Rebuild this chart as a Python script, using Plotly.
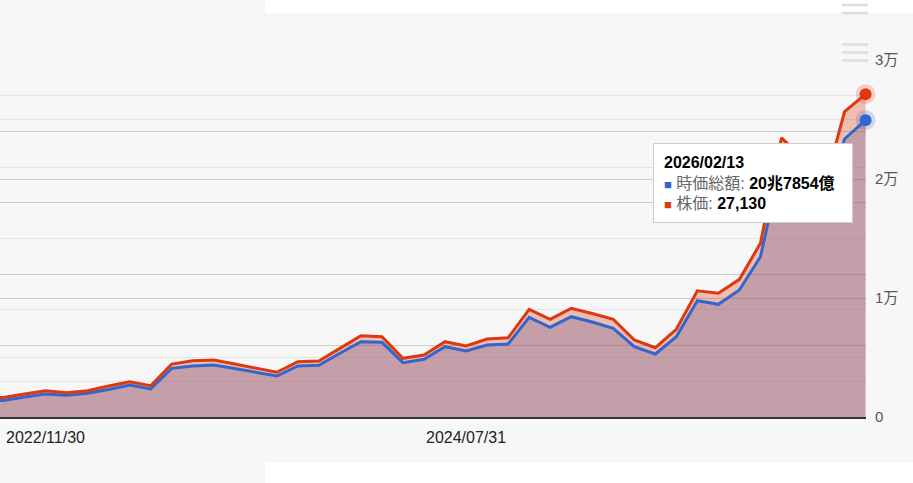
import plotly.graph_objects as go

# monthly points (last one is the latest trading day)
dates = [
    "2022/08/31", "2022/09/30", "2022/10/31", "2022/11/30", "2022/12/31",
    "2023/01/31", "2023/02/28", "2023/03/31", "2023/04/30", "2023/05/31", "2023/06/30",
    "2023/07/31", "2023/08/31", "2023/09/30", "2023/10/31", "2023/11/30", "2023/12/31",
    "2024/01/31", "2024/02/29", "2024/03/31", "2024/04/30", "2024/05/31", "2024/06/30",
    "2024/07/31", "2024/08/31", "2024/09/30", "2024/10/31", "2024/11/30", "2024/12/31",
    "2025/01/31", "2025/02/28", "2025/03/31", "2025/04/30", "2025/05/31", "2025/06/30",
    "2025/07/31", "2025/08/31", "2025/09/30", "2025/10/31", "2025/11/30", "2025/12/31",
    "2026/01/31", "2026/02/13",
]

# 時価総額 (億円)
market_cap = [
    11200, 11550, 14000, 16100, 15200,
    16600, 19260, 22410, 19610, 34100, 35710,
    36410, 33960, 31510, 28710, 35710, 36200,
    44610, 52730, 52310, 38030, 40410, 49230,
    46220, 50420, 51120, 69820, 62820, 70240,
    66530, 62120, 49230, 44120, 56230, 81440,
    78920, 88940, 112260, 178570, 164570, 146360,
    194680, 207854,
]

# 株価 (円)
price = [
    1600, 1640, 1930, 2210, 2040,
    2210, 2600, 2970, 2630, 4450, 4730,
    4790, 4450, 4080, 3760, 4650, 4710,
    5770, 6830, 6750, 4930, 5210, 6330,
    5970, 6550, 6660, 9050, 8210, 9130,
    8700, 8210, 6470, 5820, 7370, 10610,
    10400, 11570, 14600, 23450, 21760, 19080,
    25660, 27130,
]

x_labels = ["2022/11/30", "2024/07/31"]
price_ticks = [0, 10000, 20000, 30000]
price_tick_text = ["0", "1万", "2万", "3万"]

BLUE = "#3366cc"
RED = "#dc3912"
BG = "#f7f7f7"
FONT = "Liberation Sans, Arial, Noto Sans CJK JP, sans-serif"

fig = go.Figure()

# areas first, lines on top (like google charts)
fig.add_trace(go.Scatter(x=dates, y=market_cap, mode="lines", fill="tozeroy",
                         fillcolor="rgba(51,102,204,0.3)", line=dict(width=0),
                         yaxis="y", showlegend=False, hoverinfo="skip"))
fig.add_trace(go.Scatter(x=dates, y=price, mode="lines", fill="tozeroy",
                         fillcolor="rgba(220,57,18,0.3)", line=dict(width=0),
                         yaxis="y2", showlegend=False, hoverinfo="skip"))
fig.add_trace(go.Scatter(x=dates, y=market_cap, mode="lines",
                         line=dict(color=BLUE, width=3), yaxis="y3", showlegend=False))
fig.add_trace(go.Scatter(x=dates, y=price, mode="lines",
                         line=dict(color=RED, width=3), yaxis="y4", showlegend=False))

# focused last points
fig.add_trace(go.Scatter(x=dates[-1:], y=market_cap[-1:], mode="markers", yaxis="y3",
                         marker=dict(size=20, color="rgba(51,102,204,0.2)"),
                         cliponaxis=False, showlegend=False))
fig.add_trace(go.Scatter(x=dates[-1:], y=market_cap[-1:], mode="markers", yaxis="y3",
                         marker=dict(size=12, color=BLUE),
                         cliponaxis=False, showlegend=False))
fig.add_trace(go.Scatter(x=dates[-1:], y=price[-1:], mode="markers", yaxis="y4",
                         marker=dict(size=20, color="rgba(220,57,18,0.2)"),
                         cliponaxis=False, showlegend=False))
fig.add_trace(go.Scatter(x=dates[-1:], y=price[-1:], mode="markers", yaxis="y4",
                         marker=dict(size=12, color=RED),
                         cliponaxis=False, showlegend=False))

cap = market_cap[-1]
cap_text = f"{cap // 10000}兆{cap % 10000}億"
tip = (f"<b>{dates[-1]}</b><br>"
       f"<span style='color:{BLUE};font-size:13px'>■</span> "
       f"<span style='color:#666'>時価総額:</span> <b>{cap_text}</b><br>"
       f"<span style='color:{RED};font-size:13px'>■</span> "
       f"<span style='color:#666'>株価:</span> <b>{price[-1]:,}</b>")

W, H = 866, 357  # plot area in px, top at y=60
fig.add_annotation(xref="paper", yref="paper", x=653 / W, y=(417 - 143) / H,
                   xanchor="left", yanchor="top", text=tip, showarrow=False,
                   align="left", valign="middle", width=178, height=58, borderpad=10,
                   bgcolor="white", bordercolor="#cccccc", borderwidth=1,
                   font=dict(family=FONT, size=16, color="#000"))

shapes = [
    # white page bits around the cropped chart
    dict(type="rect", xref="paper", yref="paper", x0=265 / W, x1=913 / W,
         y0=(417 - 13) / H, y1=417 / H, fillcolor="white", line=dict(width=0)),
    dict(type="rect", xref="paper", yref="paper", x0=265 / W, x1=913 / W,
         y0=(417 - 483) / H, y1=(417 - 463) / H, fillcolor="white", line=dict(width=0)),
]
for py in [5, 13, 44.5, 52.5, 60.5]:
    shapes.append(dict(type="line", xref="paper", yref="paper", x0=842 / W, x1=868 / W,
                       y0=(417 - py) / H, y1=(417 - py) / H,
                       line=dict(color="#dddddd", width=2.5)))

fig.update_layout(
    width=913, height=483,
    margin=dict(l=0, r=47, t=60, b=66),
    paper_bgcolor=BG, plot_bgcolor=BG,
    font=dict(family=FONT),
    hovermode=False,
    shapes=shapes,
    xaxis=dict(type="category", range=[0.836, 42.02], showgrid=False, zeroline=False,
               tickmode="array", tickvals=x_labels, ticktext=x_labels, ticks="",
               ticklabelstandoff=5, tickfont=dict(size=16, color="#222"),
               showline=True, linecolor="#333333", linewidth=2),
    yaxis=dict(range=[0, 250000], dtick=50000, tick0=0, showticklabels=False,
               gridcolor="#cccccc", gridwidth=1, zeroline=False,
               minor=dict(dtick=25000, tick0=0, showgrid=True, gridcolor="#e5e5e5")),
    yaxis2=dict(range=[0, 30000], overlaying="y", side="right",
                tickmode="array", tickvals=price_ticks, ticktext=price_tick_text,
                ticks="", ticklabelstandoff=8,
                tickfont=dict(size=15, color="#555"),
                gridcolor="#cccccc", gridwidth=1, zeroline=False,
                minor=dict(dtick=5000, tick0=0, showgrid=True, gridcolor="#e5e5e5")),
    yaxis3=dict(range=[0, 250000], overlaying="y", visible=False),
    yaxis4=dict(range=[0, 30000], overlaying="y", visible=False),
)

# drop the default page margin so the chart sits at the window's corner
fig.write_html("out.html", config={"displayModeBar": False},
               post_script="document.body.style.margin='0';")
